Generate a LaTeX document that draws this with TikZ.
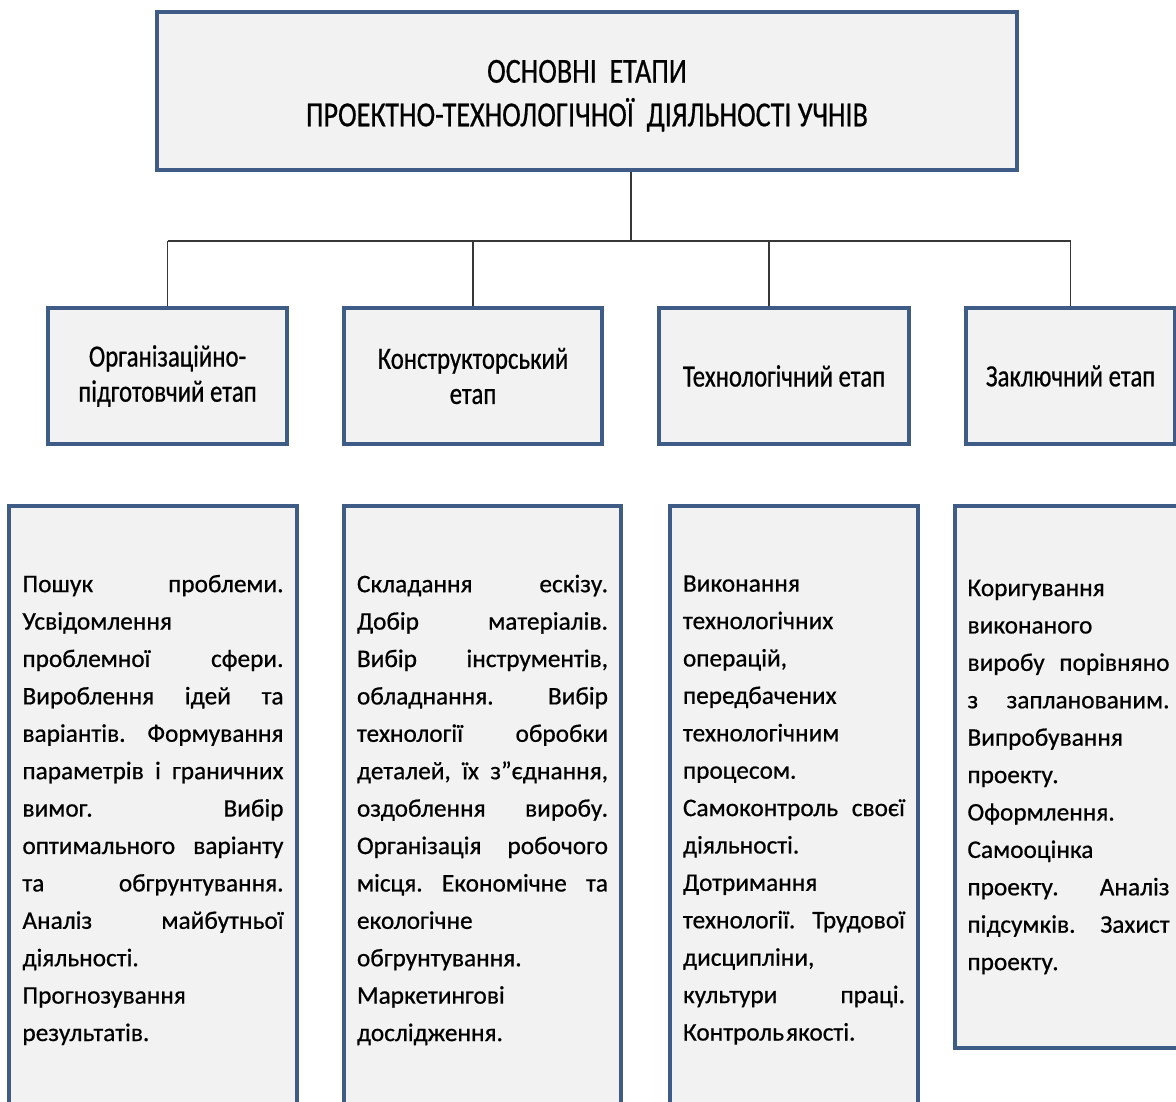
\documentclass[tikz,border=0pt]{standalone}
\usepackage{fontspec}
\setmainfont{Carlito}[FakeBold=0.6]
\newfontfamily\headfont{Carlito}[FakeStretch=0.8,FakeBold=0.6]
\definecolor{framecol}{RGB}{62,92,134}
\definecolor{boxfill}{RGB}{242,242,242}
\definecolor{linkcol}{RGB}{55,55,55}
\newlength{\colw}
% one justified line: spaces stretched to the full column width
\newcommand{\jl}[1]{{\spaceskip=.25em plus 1fil\relax\makebox[\colw][s]{#1}}}
\begin{document}
\begin{tikzpicture}[x=0.025cm,y=-0.025cm,
    box/.style={draw=framecol,line width=2.7pt,fill=boxfill},
    titlebox/.style={box,minimum width=21.5cm,minimum height=3.95cm},
    titletext/.style={align=center,font=\headfont\fontsize{25}{31}\selectfont},
    stagebox/.style={box,minimum height=3.4cm,align=center,
        font=\headfont\fontsize{22}{25}\selectfont},
    detailbox/.style={box,inner xsep=0pt,align=left,text width=#1,
        font=\fontsize{18}{26.6}\selectfont\frenchspacing,
        execute at begin node={\setlength{\colw}{#1}}},
    link/.style={draw=linkcol,line width=1pt}]
    \useasboundingbox (0,0) rectangle (1176,1102);

    \node[titlebox] (main) at (587,91) {};
    \node[titletext] (maintitle) at ([yshift=-0.12cm]main.center)
        {ОСНОВНІ\ \ ЕТАПИ\\ПРОЕКТНО-ТЕХНОЛОГІЧНОЇ\ \ ДІЯЛЬНОСТІ УЧНІВ};

    % stages
    \node[stagebox,minimum width=5.975cm] (org)  at (167.5,376) {Організаційно-\\підготовчий етап};
    \node[stagebox,minimum width=6.45cm]  (con)  at (473,376)   {Конструкторський\\етап};
    \node[stagebox,minimum width=6.25cm]  (tech) at (784,376)   {Технологічний етап};
    \node[stagebox,minimum width=5.225cm] (fin)  at (1070.5,376) {Заключний етап};

    % tree lines
    \coordinate (hub) at (631,241);
    \draw[link] (main.south -| hub) -- (hub);
    \draw[link] (org.north |- hub) -- (fin.north |- hub);
    \foreach \n in {org,con,fin}
        \draw[link] (\n.north) -- (\n.north |- hub);
    \draw[link] ([xshift=-0.375cm]tech.north) -- ([xshift=-0.375cm]tech.north |- hub);

    % what each stage covers
    \node[detailbox=6.525cm,minimum width=7.2cm,minimum height=15.2cm] (orgtxt) at (153,810) {%
        \jl{Пошук проблеми.}\\
        Усвідомлення\\
        \jl{проблемної сфери.}\\
        \jl{Вироблення ідей та}\\
        \jl{варіантів. Формування}\\
        \jl{параметрів і граничних}\\
        \jl{вимог. Вибір}\\
        \jl{оптимального варіанту}\\
        \jl{та обгрунтування.}\\
        \jl{Аналіз майбутньої}\\
        діяльності.\\
        Прогнозування\\
        результатів.};
    \node[detailbox=6.275cm,minimum width=6.925cm,minimum height=15.2cm] (contxt) at (482.5,810) {%
        \jl{Складання ескізу.}\\
        \jl{Добір матеріалів.}\\
        \jl{Вибір інструментів,}\\
        \jl{обладнання. Вибір}\\
        \jl{технології обробки}\\
        \jl{деталей, їх з”єднання,}\\
        \jl{оздоблення виробу.}\\
        \jl{Організація робочого}\\
        \jl{місця. Економічне та}\\
        екологічне\\
        обгрунтування.\\
        Маркетингові\\
        дослідження.};
    \node[detailbox=5.55cm,minimum width=6.2cm,minimum height=15.2cm] (techtxt) at (794,810) {%
        Виконання\\
        технологічних\\
        операцій,\\
        передбачених\\
        технологічним\\
        процесом.\\
        \jl{Самоконтроль своєї}\\
        діяльності.\\
        Дотримання\\
        \jl{технології. Трудової}\\
        дисципліни,\\
        \jl{культури праці.}\\
        Контроль\hspace{0.08em}якості.};
    \node[detailbox=5.05cm,minimum width=5.675cm,minimum height=13.55cm] (fintxt) at (1068.5,777) {%
        Коригування\\
        виконаного\\
        \jl{виробу порівняно}\\
        \jl{з запланованим.}\\
        Випробування\\
        проекту.\\
        Оформлення.\\
        Самооцінка\\
        \jl{проекту. Аналіз}\\
        \jl{підсумків. Захист}\\
        проекту.};
\end{tikzpicture}
\end{document}
